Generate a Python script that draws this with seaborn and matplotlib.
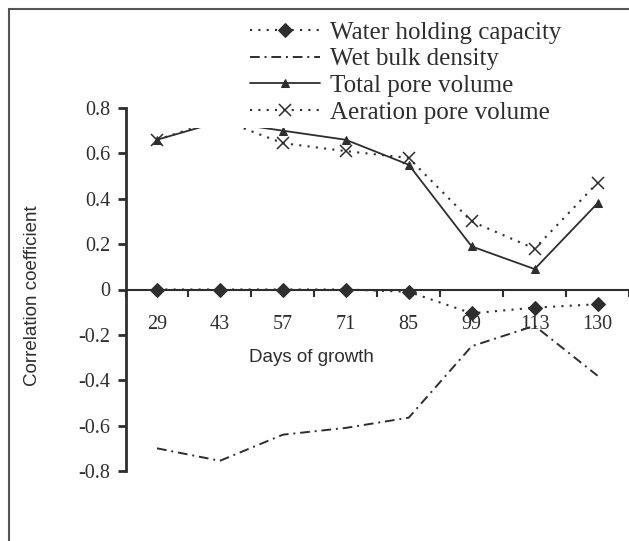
import matplotlib
matplotlib.use("Agg")
import matplotlib.pyplot as plt
import numpy as np
import pandas as pd
import seaborn as sns
from matplotlib.patches import Rectangle

days = ["29", "43", "57", "71", "85", "99", "113", "130"]
water_holding = [0.0, 0.0, 0.0, 0.0, -0.01, -0.105, -0.08, -0.065]
wet_bulk = [-0.70, -0.755, -0.64, -0.61, -0.565, -0.25, -0.16, -0.38]
total_pore = [0.66, 0.74, 0.70, 0.66, 0.55, 0.19, 0.09, 0.38]
aeration_pore = [0.66, 0.75, 0.645, 0.61, 0.58, 0.30, 0.18, 0.47]
y_ticks = [-0.8, -0.6, -0.4, -0.2, 0, 0.2, 0.4, 0.6, 0.8]
y_labels = ["-0.8", "-0.6", "-0.4", "-0.2", "0", "0.2", "0.4", "0.6", "0.8"]

names = ["Water holding capacity", "Wet bulk density", "Total pore volume", "Aeration pore volume"]
df = pd.DataFrame({
    "pos": np.tile(np.arange(len(days)), 4),
    "r": water_holding + wet_bulk + total_pore + aeration_pore,
    "series": np.repeat(names, len(days)),
})

sns.set_theme(style="white")
plt.rcParams["font.family"] = ["Liberation Serif", "DejaVu Serif"]
ink = "#2e2e2e"

fig = plt.figure(figsize=(6.29, 5.41), dpi=100)
ax = fig.add_axes([125.5 / 629, 1 - 471 / 541, (629 - 125.5) / 629, 363 / 541])

styles = {
    "Water holding capacity": dict(linestyle=(0, (1, 3)), marker="D", markersize=7, lw=1.5),
    "Wet bulk density": dict(linestyle=(0, (5, 2.5, 1, 2.5)), marker=None, lw=1.4),
    "Total pore volume": dict(linestyle="-", marker="^", markersize=6, lw=1.3),
    "Aeration pore volume": dict(linestyle=(0, (1, 3)), marker="x", markersize=9, lw=1.5,
                                 markeredgewidth=1.1),
}
for name in names:
    st = styles[name]
    sub = df[df.series == name]
    sns.lineplot(data=sub, x="pos", y="r", ax=ax, color=ink, label=name,
                 markeredgecolor=ink, **st)

ax.set_xlim(-0.5, (629 - 158) / 63.7)
ax.set_ylim(-0.8, 0.8)
ax.set_xlabel("")
ax.set_ylabel("")
ax.patch.set_alpha(0)

for s in ["top", "right"]:
    ax.spines[s].set_visible(False)
ax.spines["left"].set_color(ink)
ax.spines["left"].set_linewidth(2)
ax.spines["bottom"].set_position(("data", 0))
ax.spines["bottom"].set_color(ink)
ax.spines["bottom"].set_linewidth(1.5)

ax.set_yticks(y_ticks)
ax.set_yticklabels(y_labels)
ax.tick_params(axis="y", direction="out", length=6, width=2, color=ink,
               labelsize=14.5, pad=5, left=True, labelcolor=ink)

ax.set_xticks(np.arange(len(days) + 1) - 0.5)
ax.set_xticklabels([])
ax.set_xticks(np.arange(len(days)), minor=True)
ax.set_xticklabels(days, minor=True)
ax.tick_params(axis="x", which="major", direction="out", length=5, width=1.5,
               color=ink, bottom=True)
ax.tick_params(axis="x", which="minor", length=0, labelsize=14.5, pad=18.5,
               labelcolor=ink, bottom=True)

ax.get_legend().remove()
handles, labels = ax.get_legend_handles_labels()

# white area behind the legend hides the lines, as in the scan
fig.patches.append(Rectangle((185 / 629, 1 - 128 / 541), 420 / 629, 116 / 541,
                             transform=fig.transFigure, facecolor="white",
                             edgecolor="none", zorder=2))
fig.legend(handles, labels, loc="upper left", bbox_to_anchor=(250 / 629, 1 - 21 / 541),
           frameon=False, fontsize=18, handlelength=2.8, handletextpad=0.4,
           labelspacing=0.17, borderpad=0, borderaxespad=0, labelcolor=ink)

fig.text(33 / 629, 1 - 296 / 541, "Correlation coefficient", rotation=90,
         ha="center", va="center", fontsize=13.5, family=["Liberation Sans"], color=ink)
fig.text(311 / 629, 1 - 358 / 541, "Days of growth", ha="center", va="center",
         fontsize=13.5, family=["Liberation Sans"], color=ink)

fig.patches.append(Rectangle((9 / 629, -0.1), 1.2, 1 - 9 / 541 + 0.1,
                             transform=fig.transFigure, facecolor="none",
                             edgecolor="#555555", lw=1.5, zorder=3))

fig.savefig("out.png", dpi=100)
